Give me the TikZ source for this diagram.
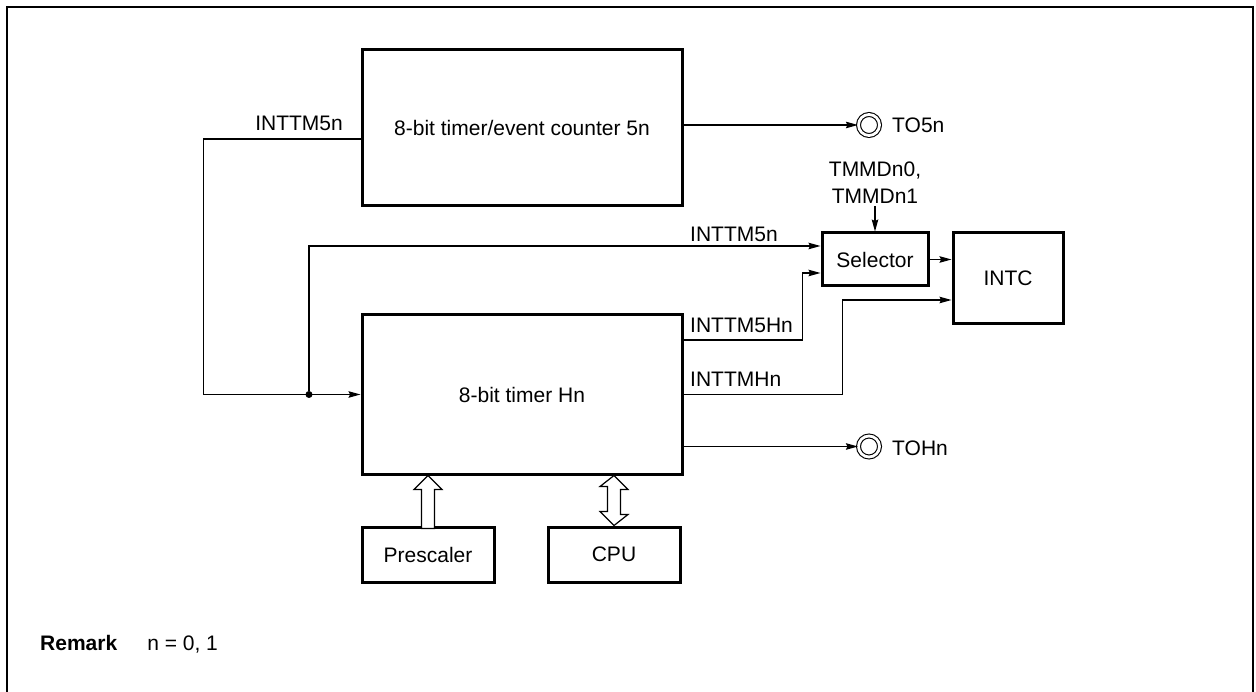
\documentclass[tikz,border=0pt]{standalone}
\usepackage{fontspec}
\setmainfont{Liberation Sans}
\usetikzlibrary{arrows.meta,calc}
\tikzset{
    block/.style={rectangle, draw, line width=3pt, inner sep=0pt},
    ioport/.style={circle, draw, double, double distance=2.8pt, line width=1.1pt, minimum size=21pt, inner sep=0pt},
    conn/.style={line width=1.2pt, -{Stealth[length=12pt, width=6.5pt, inset=1.5pt]}},
    hollow/.style={draw, fill=white, line width=1.2pt, line join=miter},
    junc/.style={circle, fill, inner sep=0pt, minimum size=7pt},
    lbl/.style={inner sep=0pt},
    outline/.style={line width=2.5pt},
}

\begin{document}
\begin{tikzpicture}[x=1pt, y=-1pt, every node/.style={font=\fontsize{21}{27}\selectfont}]
    \useasboundingbox (0,0) rectangle (1256,692);
    \draw[outline] (7,692) -- (7,7) -- (1253,7) -- (1253,692);

    % Blocks
    \node[block, minimum width=320pt, minimum height=156pt] (T5) at (522,128) {8-bit timer/event counter 5n};
    \node[block, minimum width=320pt, minimum height=159pt] (TH) at (522,394.5) {8-bit timer Hn};
    \node[block, minimum width=106pt, minimum height=53pt] (Sel) at (875,259.5) {Selector};
    \node[block, minimum width=110pt, minimum height=91pt] (INTC) at (1008,278.5) {INTC};
    \node[block, minimum width=132pt, minimum height=55pt] (Pre) at (428,554.5) {Prescaler};
    \node[block, minimum width=132pt, minimum height=55pt] (CPU) at (614,554.5) {CPU};

    % Output pins
    \node[ioport] (TO5) at (869,125) {};
    \node[lbl, anchor=base west] at (892,133) {TO5n};
    \node[ioport] (TOH) at (869,446.5) {};
    \node[lbl, anchor=base west] at (892,455) {TOHn};

    % Mode signal
    \node[align=center, inner sep=2pt, anchor=south] (mode) at (875,206) {TMMDn0,\\TMMDn1};

    % Connections
    \node[junc] (jn) at (309,394.5) {};
    \draw[conn] (T5.east |- TO5) -- (TO5);
    \draw[conn] (TH.east |- TOH) -- (TOH);
    \draw[conn] ([yshift=-11pt]T5.west) -- ++(-157,0) |- (TH.west);
    \node[lbl, anchor=base east] at (343,131) {INTTM5n};
    \draw[conn] (jn) |- ([yshift=13.5pt]Sel.west);
    \node[lbl, anchor=base west] at (690,242) {INTTM5n};
    \draw[conn] ([yshift=54.5pt]TH.east) -- ++(119,0) |- ([yshift=-13.5pt]Sel.west);
    \node[lbl, anchor=base west] at (690,333) {INTTM5Hn};
    \draw[conn] (TH.east) -- ++(159,0) |- ([yshift=-21.5pt]INTC.west);
    \node[lbl, anchor=base west] at (690,387) {INTTMHn};
    \draw[conn] (Sel.east) -- (Sel.east -| INTC.west);
    \draw[conn] (mode.south) -- (Sel.north);

    % Bus arrows
    \draw[hollow] (Pre.north |- TH.south) -- ++(14,14) -- ++(-7.5,0) -- ++(0,39)
        -- ++(-13,0) -- ++(0,-39) -- ++(-7.5,0) -- cycle;
    \draw[hollow] (CPU.north |- TH.south) -- ++(14,14) -- ++(-7.5,0) -- ++(0,25) -- ++(7.5,0)
        -- (CPU.north) -- ++(-14,-14) -- ++(7.5,0) -- ++(0,-25) -- ++(-7.5,0) -- cycle;

    % Remark
    \node[lbl, anchor=base west] at (40,650) {\textbf{Remark}\hspace{30pt}n = 0, 1};
\end{tikzpicture}
\end{document}
